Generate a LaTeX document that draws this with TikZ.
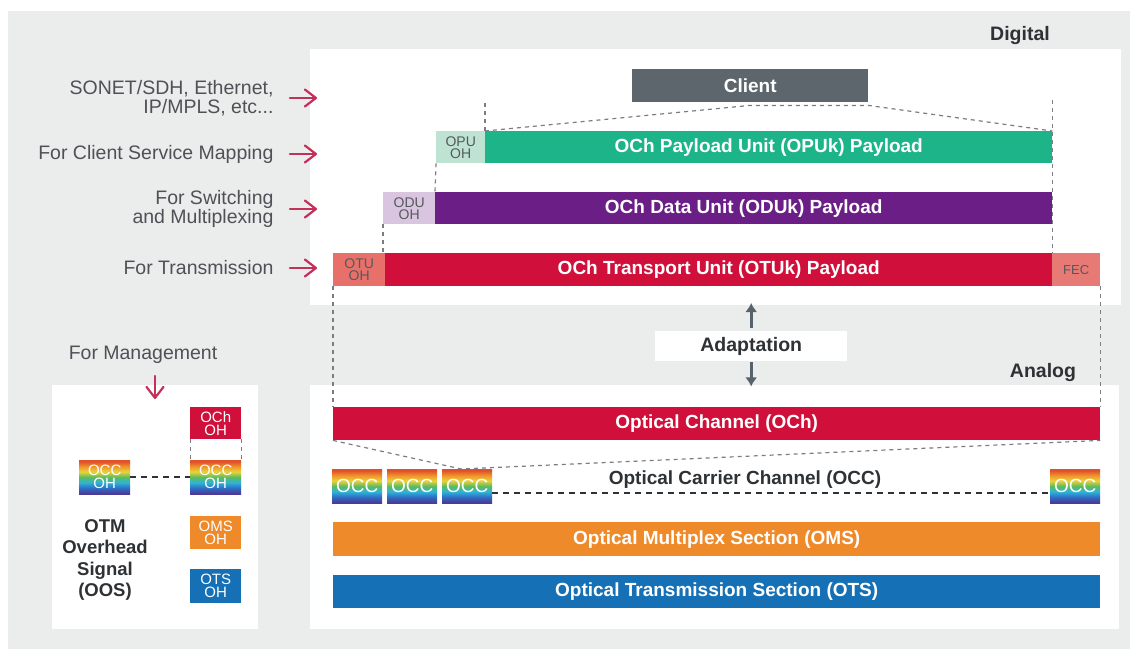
\documentclass[tikz,border=0pt]{standalone}
\usepackage{fontspec}
\setmainfont{Liberation Sans}
\usetikzlibrary{arrows.meta}
\definecolor{bggrey}{HTML}{EBECEC}
\definecolor{labelgrey}{HTML}{4D5257}
\definecolor{darktext}{HTML}{2E3235}
\definecolor{arrowred}{HTML}{C3305A}
\definecolor{clientgrey}{HTML}{5D666D}
\definecolor{crimson}{HTML}{D0103A}
\definecolor{teal}{HTML}{1DB489}
\definecolor{opuoh}{HTML}{BFE3D3}
\definecolor{purple}{HTML}{6B1E86}
\definecolor{oduoh}{HTML}{D9C5DF}
\definecolor{otuoh}{HTML}{E8706A}
\definecolor{fec}{HTML}{E87A76}
\definecolor{orange}{HTML}{EE8A2A}
\definecolor{blue}{HTML}{1570B5}
\definecolor{ohtext}{HTML}{55595C}
\definecolor{dashgrey}{HTML}{7A7E82}
\definecolor{adgrey}{HTML}{56626C}
\definecolor{rbpurple}{HTML}{4B3B96}
\definecolor{rbblue}{HTML}{2F6DC4}
\definecolor{rbcyan}{HTML}{2FB4D9}
\definecolor{rbgreen}{HTML}{5DBB5C}
\definecolor{rbyellow}{HTML}{E8D43A}
\definecolor{rborange}{HTML}{F0922A}
\definecolor{rbred}{HTML}{E0502B}
\pgfdeclareverticalshading{rainbow}{100bp}{color(0bp)=(rbpurple); color(26bp)=(rbpurple); color(34bp)=(rbblue); color(42bp)=(rbcyan); color(50bp)=(rbgreen); color(58bp)=(rbyellow); color(66bp)=(rborange); color(73bp)=(rbred); color(100bp)=(rbred)}
\tikzset{
  bar/.style={rectangle, inner sep=0pt, minimum height=33pt, anchor=north west, text=white,
    font=\fontsize{19}{21}\selectfont\bfseries},
  ohbox/.style={rectangle, inner sep=0pt, minimum height=33pt, anchor=north west, text=ohtext,
    align=center, font=\fontsize{14}{12}\selectfont},
  occbox/.style={rectangle, inner sep=0pt, minimum width=50pt, minimum height=34pt, anchor=north west,
    shading=rainbow, text=white, font=\fontsize{19}{21}\selectfont},
  lab/.style={anchor=east, align=right, text=labelgrey, font=\fontsize{19.5}{19}\selectfont},
  larrow/.style={draw=arrowred, line width=2.2pt, line cap=round,
    -{Straight Barb[length=11pt,width=17pt,line cap=round,line join=round]}},
  dsh/.style={draw=dashgrey, line width=1.2pt, dash pattern=on 4pt off 4pt},
  dshdark/.style={draw=darktext, line width=2pt, dash pattern=on 6pt off 5pt},
  adarrow/.style={draw=adgrey, line width=2.6pt, -{Latex[length=9pt,width=12pt]}},
  heading/.style={text=darktext, font=\fontsize{19.5}{21}\selectfont\bfseries},
}
\begin{document}
\begin{tikzpicture}[x=1pt,y=-1pt]
\fill[white] (0,0) rectangle (1130,649);
\fill[bggrey] (8,11) rectangle (1130,649);
\useasboundingbox (0,0) rectangle (1130,649);
% panels
\fill[white] (310,49) rectangle (1121,305);
\fill[white] (310,385) rectangle (1119,629);
\fill[white] (52,385) rectangle (258,629);

% headings
\node[heading] (digital) at (1020,35) {Digital};
\node[heading] (analog) at (1043,372) {Analog};

% left labels
\node[lab] (l1) at (277,98) {SONET/SDH, Ethernet,\\IP/MPLS, etc...};
\node[lab] (l2) at (277,154) {For Client Service Mapping};
\node[lab] (l3) at (277,209) {For Switching\\and Multiplexing};
\node[lab] (l4) at (277,268) {For Transmission};
\draw[larrow] ([xshift=13pt]l1.east) -- ++(27,0);
\draw[larrow] ([xshift=13pt]l2.east) -- ++(27,0);
\draw[larrow] ([xshift=13pt]l3.east) -- ++(27,0);
\draw[larrow] ([xshift=13pt]l4.east) -- ++(27,0);

% digital layers
\node[bar, fill=clientgrey, minimum width=236pt] (client) at (632,69) {Client};
\node[ohbox, fill=opuoh, minimum width=49pt, minimum height=32pt] (opuohb) at (436,131) {OPU\\OH};
\node[bar, fill=teal, minimum width=567pt, minimum height=32pt] (opu) at (485,131) {OCh Payload Unit (OPUk) Payload};
\node[ohbox, fill=oduoh, minimum width=52pt, minimum height=32pt] (oduohb) at (383,192) {ODU\\OH};
\node[bar, fill=purple, minimum width=617pt, minimum height=32pt] (odu) at (435,192) {OCh Data Unit (ODUk) Payload};
\node[ohbox, fill=otuoh, minimum width=52pt] (otuohb) at (333,253) {OTU\\OH};
\node[bar, fill=crimson, minimum width=667pt] (otu) at (385,253) {OCh Transport Unit (OTUk) Payload};
\node[ohbox, fill=fec, minimum width=48pt, font=\fontsize{13}{14}\selectfont] (fecb) at (1052,253) {FEC};

% digital dashed guides
\draw[dsh] (opu.north west) -- ([yshift=-3pt]client.south) -- ([yshift=-3pt]client.south east) -- (opu.north east);
\draw[dsh] (opu.north west) -- ++(0,-31);
\draw[dsh] ([yshift=31pt]opu.north east) -- (otu.north east);
\draw[dsh] (opuohb.south west) -- (odu.north west);
\draw[dsh] (oduohb.south west) -- (oduohb.south west |- otu.north);

% adaptation
\node[fill=white, minimum width=192pt, minimum height=30pt, inner sep=0pt, anchor=north west, heading] (adapt) at (655,331) {Adaptation};
\draw[adarrow] ([yshift=3pt]adapt.north) -- ++(0,-25);
\draw[adarrow] ([yshift=-1pt]adapt.south) -- ++(0,24);

% analog layers
\node[bar, fill=crimson, minimum width=767pt] (och) at (333,407) {Optical Channel (OCh)};
\node[occbox] (occ1) at (332,469) {OCC};
\node[occbox] (occ2) at (387,469) {OCC};
\node[occbox] (occ3) at (442,469) {OCC};
\node[occbox] (occ4) at (1050,469) {OCC};
\node[heading, font=\fontsize{19}{21}\selectfont\bfseries] (occlab) at (745,480) {Optical Carrier Channel (OCC)};
\draw[dshdark] ([yshift=-7pt]occ3.east) -- ([yshift=-7pt]occ4.west);
\draw[dsh] (och.south west) -- ([xshift=-6pt]occ3.north) -- (och.south east);
\node[bar, fill=orange, minimum width=767pt, minimum height=34pt] (oms) at (333,522) {Optical Multiplex Section (OMS)};
\node[bar, fill=blue, minimum width=767pt] (ots) at (333,575) {Optical Transmission Section (OTS)};

\draw[dsh] (otuohb.south west) -- (och.north west);
\draw[dsh] (fecb.south east) -- (och.north east);

% OOS panel
\node[text=labelgrey, font=\fontsize{19.5}{21}\selectfont] (mgmt) at (143,355) {For Management};
\coordinate (mgtop) at (155,376);
\coordinate (mgtip) at (155,399);
\draw[larrow] (mgtop) -- (mgtip);
\node[ohbox, fill=crimson, text=white, minimum width=51pt, minimum height=32pt, font=\fontsize{15}{13}\selectfont] (ochoh) at (190,407) {OCh\\OH};
\node[occbox, minimum width=51pt, font=\fontsize{15}{13}\selectfont, align=center] (occoh2) at (190,460) {OCC\\OH};
\node[occbox, minimum width=51pt, font=\fontsize{15}{13}\selectfont, align=center] (occoh1) at (79,460) {OCC\\OH};
\draw[dshdark] (occoh1.east) -- (occoh2.west);
\draw[dsh, line width=0.8pt] (ochoh.south west) -- (occoh2.north west);
\draw[dsh, line width=0.8pt] (ochoh.south east) -- (occoh2.north east);
\node[ohbox, fill=orange, text=white, minimum width=51pt, font=\fontsize{15}{13}\selectfont] (omsoh) at (190,516) {OMS\\OH};
\node[ohbox, fill=blue, text=white, minimum width=51pt, minimum height=34pt, font=\fontsize{15}{13}\selectfont] (otsoh) at (190,569) {OTS\\OH};
\node[align=center, text=darktext, font=\fontsize{18.5}{21.5}\selectfont\bfseries] (oos) at (105,560) {OTM\\Overhead\\Signal\\(OOS)};
\end{tikzpicture}
\end{document}
